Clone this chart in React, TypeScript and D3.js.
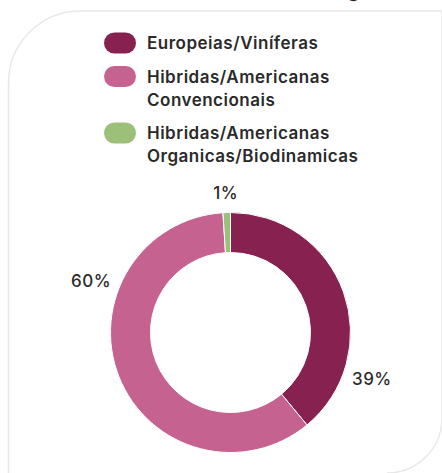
import * as d3 from "d3";

const categories = [
    "Europeias/Viníferas",
    "Hibridas/Americanas Convencionais",
    "Hibridas/Americanas Organicas/Biodinamicas",
];
const legendLines = [
    ["Europeias/Viníferas"],
    ["Hibridas/Americanas", "Convencionais"],
    ["Hibridas/Americanas", "Organicas/Biodinamicas"],
];
const shares = [39, 60, 1];
const shareLabels = ["39%", "60%", "1%"];
const colors = ["#87214f", "#c5628f", "#9cc07a"];
// where along each slice its label sits (0 = start, 1 = end)
const labelAt = [0.78, 0.7, 0.5];

const App: React.FC = () => {
    const width = 442;
    const height = 473;
    const cx = 230.5;
    const cy = 332.5;
    const outerR = 120;
    const innerR = 80;
    const font = "Inter, 'Noto Sans', sans-serif";

    const pie = d3.pie<number>().sort(null).value((d) => d);
    const arcs = pie(shares);
    const arc = d3.arc<d3.PieArcDatum<number>>().innerRadius(innerR).outerRadius(outerR);

    // legend rows
    const lineH = 23;
    let y = 43;
    const rows = legendLines.map((lines, i) => {
        const row = { lines, y, color: colors[i], key: categories[i] };
        y += lines.length * lineH + 10.5;
        return row;
    });

    // card outline: big round top-left and bottom-right corners
    const left = 8.5, top = 11, right = 442, bottom = 473;
    const rTL = 72, rBR = 55;
    const card = `M${left},${bottom + 20} L${left},${top + rTL} A${rTL},${rTL} 0 0 1 ${left + rTL},${top} L${right + 20},${top} M${right},${top} L${right},${bottom - rBR} A${rBR},${rBR} 0 0 1 ${right - rBR},${bottom}`;

    return (
        <svg width={width} height={height} style={{ position: "absolute", left: 0, top: 0, background: "#fff" }}>
            <text x={405} y={-3.5} textAnchor="end" fontFamily={font} fontWeight={700} fontSize={20} fill="#222">
                Área cultivada (categoria)
            </text>
            <path d={card} fill="none" stroke="#e8e8e8" strokeWidth={1.5} />

            <g fontFamily={font} fontWeight={600} fontSize={17} letterSpacing={0.5} fill="#2a2a2a">
                {rows.map((r) => (
                    <g key={r.key}>
                        <rect x={104} y={r.y - 10.5} width={32} height={21} rx={10.5} fill={r.color} />
                        {r.lines.map((l, j) => (
                            <text key={j} x={147} y={r.y + j * lineH} dy="0.36em">{l}</text>
                        ))}
                    </g>
                ))}
            </g>

            <g transform={`translate(${cx},${cy})`}>
                {arcs.map((a, i) => (
                    <path key={categories[i]} d={arc(a) ?? undefined} fill={colors[i]} stroke="#fff" strokeWidth={1} />
                ))}
                <g fontFamily={font} fontWeight={500} fontSize={17} letterSpacing={0.5} fill="#2a2a2a" textAnchor="middle">
                    {arcs.map((a, i) => {
                        const ang = a.startAngle + (a.endAngle - a.startAngle) * labelAt[i];
                        return (
                            <text key={i} x={150 * Math.sin(ang)} y={-140 * Math.cos(ang)} dy="0.36em">
                                {shareLabels[i]}
                            </text>
                        );
                    })}
                </g>
            </g>
        </svg>
    );
};

export default App;
